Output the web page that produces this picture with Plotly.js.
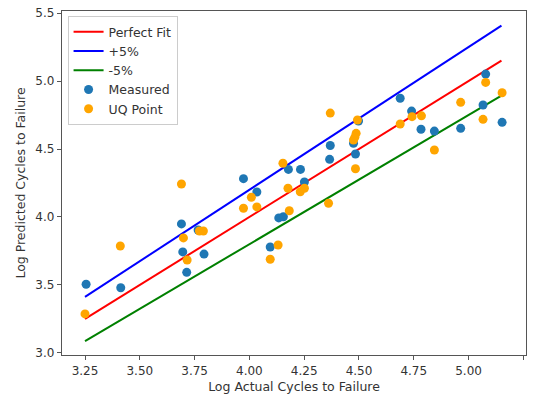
<!DOCTYPE html>
<html>
<head>
<meta charset="utf-8">
<script src="https://cdn.plot.ly/plotly-3.0.1.min.js"></script>
<style>html,body{margin:0;padding:0;background:#fff;}#chart{width:535px;height:396px;}</style>
</head>
<body>
<div id="chart"></div>
<script>
// Fit line endpoints (actual log cycles)
const fitX = [3.25, 5.15];

// Measured points
const measuredX = [3.255, 3.413, 3.69, 3.696, 3.714, 3.766, 3.793, 3.973, 4.034, 4.095, 4.134, 4.155, 4.178, 4.233, 4.251, 4.366, 4.369, 4.475, 4.484, 4.498, 4.688, 4.74, 4.783, 4.844, 4.964, 5.066, 5.078, 5.153];
const measuredY = [3.505, 3.48, 3.949, 3.743, 3.593, 3.904, 3.727, 4.282, 4.184, 3.779, 3.993, 4.002, 4.35, 4.35, 4.257, 4.424, 4.526, 4.542, 4.463, 4.706, 4.873, 4.779, 4.645, 4.632, 4.652, 4.824, 5.051, 4.696];

// UQ points
const uqX = [3.25, 3.411, 3.69, 3.699, 3.716, 3.772, 3.79, 3.973, 4.009, 4.034, 4.095, 4.131, 4.153, 4.176, 4.182, 4.232, 4.251, 4.361, 4.369, 4.475, 4.481, 4.484, 4.487, 4.493, 4.688, 4.742, 4.785, 4.844, 4.964, 5.066, 5.078, 5.153];
const uqY = [3.287, 3.787, 4.243, 3.846, 3.684, 3.897, 3.897, 4.064, 4.145, 4.074, 3.689, 3.794, 4.395, 4.211, 4.046, 4.186, 4.211, 4.101, 4.764, 4.566, 4.586, 4.355, 4.615, 4.713, 4.684, 4.738, 4.744, 4.493, 4.843, 4.718, 4.99, 4.914];

const xTicks = [3.25, 3.5, 3.75, 4.0, 4.25, 4.5, 4.75, 5.0, 5.25];
const yTicks = [3.0, 3.5, 4.0, 4.5, 5.0, 5.5];

const perfectY = fitX.map(v => v);
const plusY = fitX.map(v => v * 1.05);
const minusY = fitX.map(v => v * 0.95);

const traces = [
  {x: fitX, y: perfectY, mode: 'lines', name: 'Perfect Fit', line: {color: '#ff0000', width: 2}},
  {x: fitX, y: plusY, mode: 'lines', name: '+5%', line: {color: '#0000ff', width: 2}},
  {x: fitX, y: minusY, mode: 'lines', name: '-5%', line: {color: '#008000', width: 2}},
  {x: measuredX, y: measuredY, mode: 'markers', name: 'Measured', marker: {color: '#1f77b4', size: 9}},
  {x: uqX, y: uqY, mode: 'markers', name: 'UQ Point', marker: {color: '#ffa500', size: 9}}
];

const axisCommon = {
  showgrid: false, zeroline: false, showline: true, mirror: true,
  linecolor: '#555', linewidth: 1.2, ticks: 'outside', ticklen: 4, tickcolor: '#555',
  tickfont: {family: 'DejaVu Sans', size: 12, color: '#333'}
};

const layout = {
  width: 535, height: 396,
  margin: {l: 62, r: 9, t: 11, b: 41},
  paper_bgcolor: '#fff', plot_bgcolor: '#fff',
  font: {family: 'DejaVu Sans', color: '#333'},
  showlegend: true,
  legend: {
    x: 0.012, y: 0.985, xanchor: 'left', yanchor: 'top',
    bgcolor: 'rgba(255,255,255,0.85)', bordercolor: '#ccc', borderwidth: 1,
    font: {family: 'DejaVu Sans', size: 12.5, color: '#333'},
    tracegroupgap: 0, itemwidth: 30
  },
  xaxis: Object.assign({}, axisCommon, {
    range: [3.145, 5.262], tickvals: xTicks, ticktext: xTicks.map(v => v.toFixed(2)),
    title: {text: 'Log Actual Cycles to Failure', font: {family: 'DejaVu Sans', size: 12.5, color: '#333'}, standoff: 5}
  }),
  yaxis: Object.assign({}, axisCommon, {
    range: [2.985, 5.515], tickvals: yTicks, ticktext: yTicks.map(v => v.toFixed(1)),
    title: {text: 'Log Predicted Cycles to Failure', font: {family: 'DejaVu Sans', size: 12.5, color: '#333'}, standoff: 7}
  })
};

Plotly.newPlot('chart', traces, layout, {displayModeBar: false, staticPlot: true});
</script>
</body>
</html>
